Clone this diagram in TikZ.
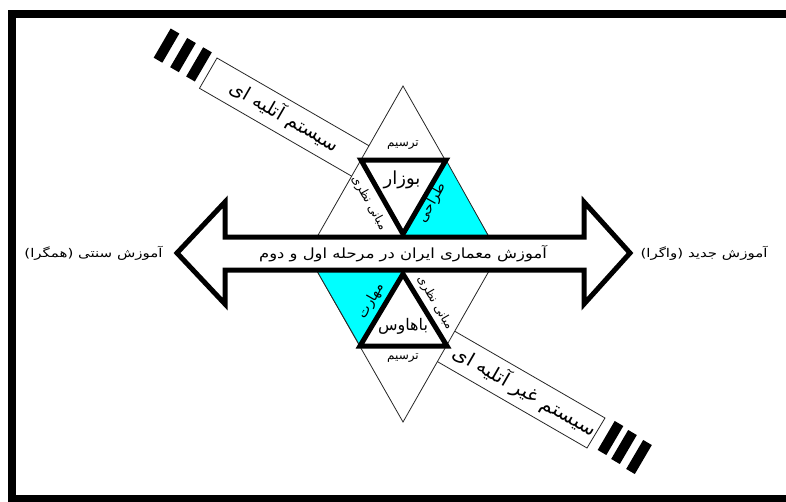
\documentclass[tikz,border=0pt]{standalone}
\usepackage{fontspec}
\newfontfamily\fa[Script=Arabic]{DejaVu Sans}
\TeXXeTstate=1
\definecolor{aqua}{RGB}{0,255,255}
\newcommand{\RTL}[1]{\beginR #1\endR}
\begin{document}
\begin{tikzpicture}[x=1pt,y=-1pt,
  thintri/.style={draw=black!85, line width=0.8pt, fill=white},
  thicktri/.style={draw=black, line width=5pt, line join=miter},
  cyanpart/.style={fill=aqua, draw=black!85, line width=0.8pt},
  blackbar/.style={line width=10pt, draw=black},
  sysbox/.style={draw=black!85, line width=0.8pt, fill=white},
  bigarrow/.style={draw=black, line width=5pt, fill=white, line join=miter},
  lbl/.style={inner sep=0pt}]
\useasboundingbox (0,0) rectangle (786,501);
% frame
\draw[line width=8pt] (12,14) rectangle (800,499);

% upper system box and bars
\draw[sysbox] (217,58) -- (381.5,153) -- (364,183.3) -- (199.5,88.3) -- cycle;
\draw[blackbar] (190.5,79) -- (207.5,49.8);
\draw[blackbar] (174.5,69.7) -- (191.5,40.5);
\draw[blackbar] (158,60.2) -- (175,31);

% lower system box and bars
\draw[sysbox] (440.5,323) -- (605,418) -- (587,448) -- (422.5,353) -- cycle;
\draw[blackbar] (602,452.5) -- (619,423.5);
\draw[blackbar] (615.5,461.5) -- (632.5,432.5);
\draw[blackbar] (630.5,471.5) -- (647.5,442.5);

% upper triangle
\coordinate (UT) at (403,86);
\coordinate (UL) at (317,237);
\coordinate (UR) at (489,237);
\coordinate (UIL) at (361,160);
\coordinate (UIR) at (446,160);
\coordinate (UIB) at (403,237);
\draw[thintri] (UT) -- (UL) -- (UR) -- cycle;
\draw[cyanpart] (UIR) -- (UR) -- (UIB) -- cycle;
\draw[thicktri] (UIL) -- (UIR) -- (403,234) -- cycle;

% lower triangle
\coordinate (LB) at (403,422);
\coordinate (LL) at (317,271);
\coordinate (LR) at (489,271);
\coordinate (LIT) at (403,271);
\coordinate (LIL) at (360,346);
\coordinate (LIR) at (447,346);
\draw[thintri] (LB) -- (LL) -- (LR) -- cycle;
\draw[cyanpart] (LL) -- (LIT) -- (LIL) -- cycle;
\draw[thicktri] (403,274) -- (LIR) -- (LIL) -- cycle;

% double arrow
\draw[bigarrow] (177,253) -- (225,202) -- (225,237) -- (584,237) -- (584,202)
  -- (630,253) -- (584,304) -- (584,270) -- (225,270) -- (225,304) -- cycle;

% texts
\node[lbl, font=\fa\fontsize{14}{16}\selectfont] (center) at (403,254) {\scalebox{1.17}[1]{\RTL{آموزش معماری ایران در مرحله اول و دوم}}};
\node[lbl, font=\fa\fontsize{12}{14}\selectfont] (left) at (93.5,253) {\scalebox{1.25}[1]{\RTL{آموزش سنتی (همگرا)}}};
\node[lbl, font=\fa\fontsize{12}{14}\selectfont] (right) at (704,253) {\scalebox{1.25}[1]{\RTL{آموزش جدید (واگرا)}}};

\node[lbl, font=\fa\fontsize{19}{21}\selectfont, rotate=-30] (sys1) at (285,116) {\RTL{سیستم آتلیه ای}};
\node[lbl, font=\fa\fontsize{19}{21}\selectfont, rotate=-30] (sys2) at (525,391) {\scalebox{1.05}[1]{\RTL{سیستم غیر آتلیه ای}}};

\node[lbl, font=\fa\fontsize{12}{14}\selectfont] (tarsim1) at (403,145) {\RTL{ترسیم}};
\node[lbl, font=\fa\fontsize{18}{20}\selectfont] (bozar) at (402,180) {\RTL{بوزار}};
\node[lbl, font=\fa\fontsize{12}{14}\selectfont, rotate=-61] (mabani1) at (369,203) {\RTL{مبانی نظری}};
\node[lbl, font=\fa\fontsize{14}{16}\selectfont, rotate=61] (tarahi) at (432,203) {\RTL{طراحی}};

\node[lbl, font=\fa\fontsize{14}{16}\selectfont, rotate=60] (maharat) at (371,301) {\RTL{مهارت}};
\node[lbl, font=\fa\fontsize{12}{14}\selectfont, rotate=-60] (mabani2) at (435,303) {\RTL{مبانی نظری}};
\node[lbl, font=\fa\fontsize{16}{18}\selectfont] (bauhaus) at (403,326) {\RTL{باهاوس}};
\node[lbl, font=\fa\fontsize{12}{14}\selectfont] (tarsim2) at (403,358) {\RTL{ترسیم}};
\end{tikzpicture}
\end{document}
